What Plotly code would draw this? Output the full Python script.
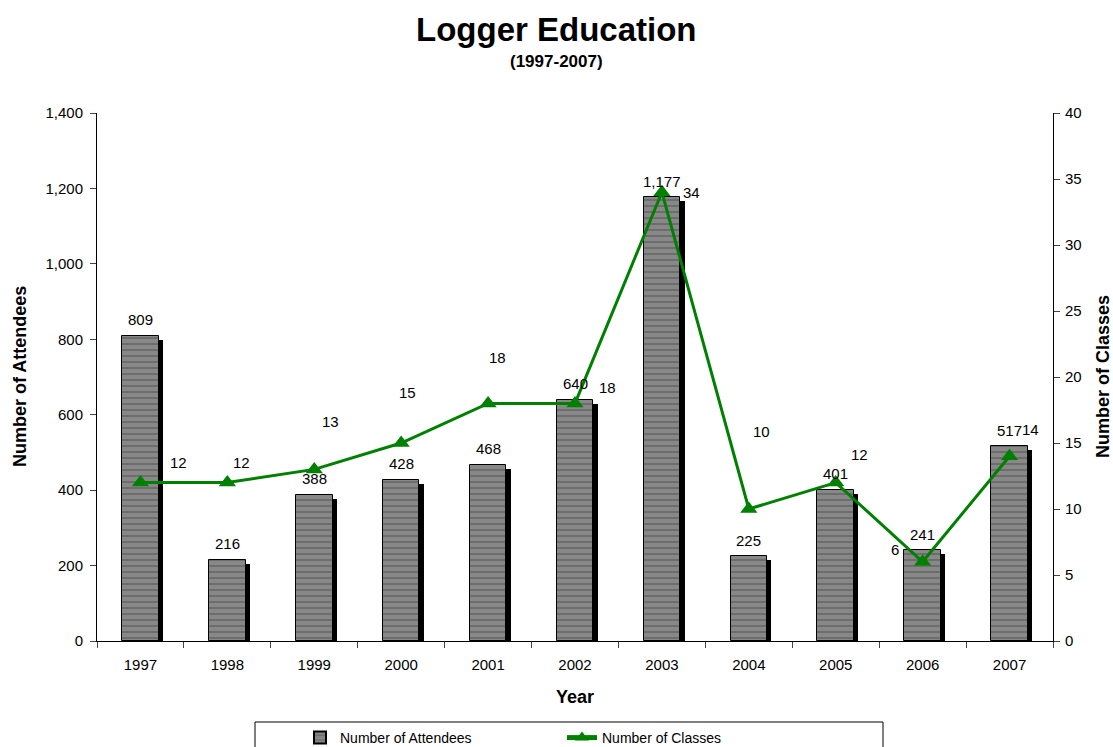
import plotly.graph_objects as go

years = ["1997", "1998", "1999", "2000", "2001", "2002", "2003", "2004", "2005", "2006", "2007"]
attendees = [809, 216, 388, 428, 468, 640, 1177, 225, 401, 241, 517]
classes = [12, 12, 13, 15, 18, 18, 34, 10, 12, 6, 14]

# label offsets (pixels) for the class labels, as placed in the reference
class_label_dx = [38, 14, 16, 6, 9, 32, 30, 13, 24, -28, 21]
class_label_dy = [20, 20, 48, 51, 46, 16, 0, 78, 28, 12, 27]

FONT = "Liberation Sans, Arial, sans-serif"
W, H = 1113, 747
L, R, T, B = 97, 60, 113, 106
plot_w = W - L - R
plot_h = H - T - B
y1_max = 1400
shadow_drop = 4 * y1_max / plot_h
bar_w = 0.42
shadow_dx = 0.05


def px_x(px):
    return (px - L) / plot_w


def px_y(py):
    return (H - B - py) / plot_h


fig = go.Figure()

# shadow
fig.add_trace(go.Bar(
    x=years, y=[v - shadow_drop for v in attendees],
    width=bar_w, offset=-bar_w / 2 + shadow_dx,
    marker=dict(color="black", line=dict(width=0)),
    showlegend=False, hoverinfo="skip", yaxis="y",
))

fig.add_trace(go.Bar(
    x=years, y=attendees, name="Number of Attendees",
    width=bar_w, offset=-bar_w / 2,
    marker=dict(
        color="#7e7e7e",
        line=dict(color="black", width=1),
        pattern=dict(shape="-", fgcolor="#4a4a4a", bgcolor="#888888", size=6, solidity=0.3),
    ),
    yaxis="y",
))

fig.add_trace(go.Scatter(
    x=years, y=classes, name="Number of Classes",
    mode="lines+markers",
    line=dict(color="#008000", width=3),
    marker=dict(symbol="triangle-up", size=15, color="#008000"),
    yaxis="y2", cliponaxis=False,
))

annotations = []
for i, v in enumerate(attendees):
    annotations.append(dict(
        x=i, y=v, xref="x", yref="y", text=f"{v:,}", showarrow=False,
        yshift=16, font=dict(family=FONT, size=15, color="black"),
    ))
for i, (v, dx, dy) in enumerate(zip(classes, class_label_dx, class_label_dy)):
    annotations.append(dict(
        x=i, y=v, xref="x", yref="y2", text=str(v), showarrow=False,
        xshift=dx, yshift=dy, font=dict(family=FONT, size=15, color="black"),
    ))

annotations += [
    dict(x=px_x(W / 2), y=px_y(30), xref="paper", yref="paper", xanchor="center", yanchor="middle",
         text="<b>Logger Education</b>", showarrow=False,
         font=dict(family=FONT, size=33, color="black")),
    dict(x=px_x(W / 2), y=px_y(62), xref="paper", yref="paper", xanchor="center", yanchor="middle",
         text="<b>(1997-2007)</b>", showarrow=False,
         font=dict(family=FONT, size=17, color="black")),
    dict(x=px_x(20), y=0.5, xref="paper", yref="paper", xanchor="center", yanchor="middle",
         text="<b>Number of Attendees</b>", textangle=-90, showarrow=False,
         font=dict(family=FONT, size=18, color="black")),
    dict(x=px_x(1103), y=0.5, xref="paper", yref="paper", xanchor="center", yanchor="middle",
         text="<b>Number of Classes</b>", textangle=-90, showarrow=False,
         font=dict(family=FONT, size=18, color="black")),
    dict(x=0.5, y=px_y(697), xref="paper", yref="paper", xanchor="center", yanchor="middle",
         text="<b>Year</b>", showarrow=False,
         font=dict(family=FONT, size=18, color="black")),
]

fig.update_layout(
    width=W, height=H,
    margin=dict(l=L, r=R, t=T, b=B, autoexpand=False),
    paper_bgcolor="white", plot_bgcolor="white",
    barmode="overlay", bargap=0,
    font=dict(family=FONT, size=15, color="black"),
    showlegend=True,
    legend=dict(
        orientation="h", x=px_x(300), xanchor="left",
        y=px_y(722), yanchor="top",
        entrywidth=217, entrywidthmode="pixels",
        font=dict(family=FONT, size=14, color="black"),
        bgcolor="rgba(0,0,0,0)", borderwidth=0,
        itemsizing="constant",
    ),
    xaxis=dict(
        type="category", range=[-0.5, len(years) - 0.5],
        tickson="boundaries", ticks="outside", ticklen=6, ticklabelstandoff=10,
        showline=True, linecolor="black", linewidth=1, showgrid=False,
        tickfont=dict(family=FONT, size=15), tickangle=0,
    ),
    yaxis=dict(
        range=[0, y1_max], dtick=200, tickformat=",d", ticks="outside", ticklen=6,
        ticklabelstandoff=4,
        showline=True, linecolor="black", linewidth=1, showgrid=False, zeroline=False,
        tickfont=dict(family=FONT, size=15),
    ),
    yaxis2=dict(
        range=[0, 40], dtick=5, overlaying="y", side="right", ticks="outside", ticklen=6,
        ticklabelstandoff=2,
        showline=True, linecolor="black", linewidth=1, showgrid=False, zeroline=False,
        tickfont=dict(family=FONT, size=15),
    ),
    annotations=annotations,
    shapes=[dict(
        type="rect", xref="paper", yref="paper",
        x0=px_x(255), x1=px_x(883),
        y0=px_y(722), y1=px_y(770),
        line=dict(color="black", width=1), fillcolor="rgba(0,0,0,0)", layer="below",
    )],
)

fig.write_html("out.html", config={"displayModeBar": False},
               post_script="document.body.style.margin='0';")
